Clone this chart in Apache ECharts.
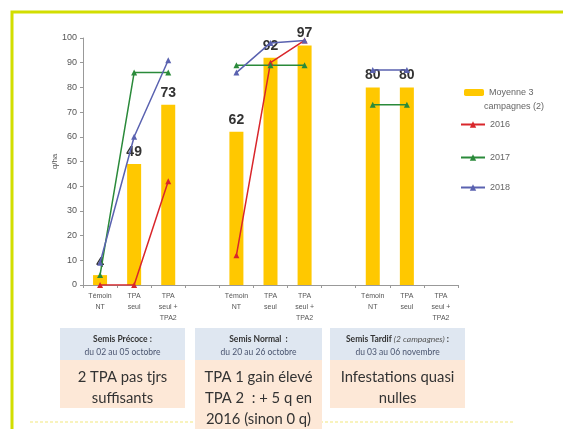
<!DOCTYPE html>
<html><head><meta charset="utf-8">
<script src="https://cdn.jsdelivr.net/npm/echarts@6/dist/echarts.min.js"></script>
<style>html,body{margin:0;padding:0;background:#fff}#chart{width:563px;height:429px}</style>
</head><body><div id="chart"></div>
<script>
// Rendement (q/ha) par modalité et date de semis
const categories = [
  'Témoin\nNT', 'TPA\nseul', 'TPA\nseul +\nTPA2', '',
  'Témoin\nNT', 'TPA\nseul', 'TPA\nseul +\nTPA2', '',
  'Témoin\nNT', 'TPA\nseul', 'TPA\nseul +\nTPA2'
];
const moyenne = [4, 49, 73, null, 62, 92, 97, null, 80, 80, null];
const an2016  = [0, 0, 42, null, 12, 90, 99, null, null, null, null];
const an2017  = [4, 86, 86, null, 89, 89, 89, null, 73, 73, null];
const an2018  = [9, 60, 91, null, 86, 98, 99, null, 87, 87, null];
const seriesNames = ['Moyenne 3 campagnes (2)', '2016', '2017', '2018'];

const FONT = 'Liberation Sans, Arial, sans-serif';
const BOXFONT = 'Lato, Open Sans, sans-serif';

function box(x, w, h, title, titleItalic, sub, body) {
  return {
    type: 'group', left: x, top: 328, children: [
      { type: 'rect', shape: { x: 0, y: 0, width: w, height: 32 }, style: { fill: '#dfe7f1' } },
      { type: 'rect', shape: { x: 0, y: 32, width: w, height: h - 32 }, style: { fill: '#fde8d7' } },
      { type: 'text', x: w / 2, y: 11, style: {
          text: titleItalic ? '{b|' + title + '}{i|' + titleItalic + '}{b| :}' : '{b|' + title + '}',
          align: 'center', verticalAlign: 'middle',
          rich: {
            b: { fontFamily: BOXFONT, fontSize: 8.5, fontWeight: 'bold', fill: '#333' },
            i: { fontFamily: BOXFONT, fontSize: 8.5, fontStyle: 'italic', fill: '#555' }
          } } },
      { type: 'text', x: w / 2, y: 24, style: { text: sub, align: 'center', verticalAlign: 'middle',
          fontFamily: BOXFONT, fontSize: 8.5, fill: '#4a5570' } },
      { type: 'text', x: w / 2, y: 39, style: { text: body, align: 'center', verticalAlign: 'top',
          fontFamily: BOXFONT, fontSize: 14.8, lineHeight: 21, fill: '#333' } }
    ]
  };
}

const chart = echarts.init(document.getElementById('chart'), null, { renderer: 'canvas' });
const lineSeries = (name, data, color) => ({
  name, type: 'line', data, connectNulls: false,
  symbol: 'triangle', symbolSize: 6, z: 3,
  lineStyle: { color, width: 1.5 }, itemStyle: { color }
});
const legendText = { fontSize: 9, color: '#666', fontFamily: FONT };

chart.setOption({
  backgroundColor: '#fff',
  animation: false,
  textStyle: { fontFamily: FONT },
  grid: { left: 83, right: 105, top: 38, bottom: 144, containLabel: false },
  legend: [
    { data: [seriesNames[0]], left: 459, top: 83, itemWidth: 20, itemHeight: 7,
      formatter: () => 'Moyenne 3', textStyle: legendText },
    { data: [seriesNames[1]], left: 455, top: 115, itemWidth: 24, itemHeight: 8, textStyle: legendText },
    { data: [seriesNames[2]], left: 455, top: 148, itemWidth: 24, itemHeight: 8, textStyle: legendText },
    { data: [seriesNames[3]], left: 455, top: 178, itemWidth: 24, itemHeight: 8, textStyle: legendText }
  ],
  xAxis: {
    type: 'category', data: categories, boundaryGap: true,
    axisLine: { lineStyle: { color: '#999' } },
    axisTick: { show: true, length: 3, lineStyle: { color: '#999' } },
    axisLabel: { interval: 0, fontSize: 7, color: '#555', lineHeight: 11, margin: 6,
      verticalAlign: 'top' }
  },
  yAxis: {
    type: 'value', min: 0, max: 100, interval: 10,
    name: 'q/ha', nameLocation: 'middle', nameGap: 24, nameRotate: 90, nameMoveOverlap: false,
    nameTextStyle: { fontSize: 8, color: '#555' },
    axisLine: { show: true, lineStyle: { color: '#999' } },
    axisTick: { show: true, length: 3, lineStyle: { color: '#999' } },
    splitLine: { show: false },
    axisLabel: { fontSize: 9, color: '#555', margin: 6 }
  },
  series: [
    { name: seriesNames[0], type: 'bar', data: moyenne, barWidth: 14, z: 2,
      itemStyle: { color: '#ffc800' },
      label: { show: true, position: 'top', distance: 5, fontSize: 14, fontWeight: 'bold',
        color: '#333', fontFamily: FONT } },
    lineSeries(seriesNames[1], an2016, '#d9262b'),
    lineSeries(seriesNames[2], an2017, '#2a8a3a'),
    lineSeries(seriesNames[3], an2018, '#5a62b0')
  ],
  graphic: [
    // cadre
    { type: 'polyline', shape: { points: [[12, 429], [12, 12], [563, 12]] },
      style: { stroke: '#d2de00', lineWidth: 3, fill: null } },
    { type: 'line', shape: { x1: 30, y1: 422, x2: 515, y2: 422 },
      style: { stroke: '#f6f0a8', lineWidth: 1.5, lineDash: [3, 2] } },
    // suite du libellé de la légende des barres
    { type: 'text', left: 484, top: 102, style: { text: 'campagnes (2)', fontFamily: FONT,
        fontSize: 9, fill: '#666' } },
    box(60, 125, 80, 'Semis Précoce :', null, 'du 02 au 05 octobre', '2 TPA pas tjrs\nsuffisants'),
    box(195, 127, 101, 'Semis Normal  :', null, 'du 20 au 26 octobre', 'TPA 1 gain élevé\nTPA 2  : + 5 q en\n2016 (sinon 0 q)'),
    box(330, 135, 80, 'Semis Tardif ', '(2 campagnes)', 'du 03 au 06 novembre', 'Infestations quasi\nnulles')
  ]
});
</script></body></html>
